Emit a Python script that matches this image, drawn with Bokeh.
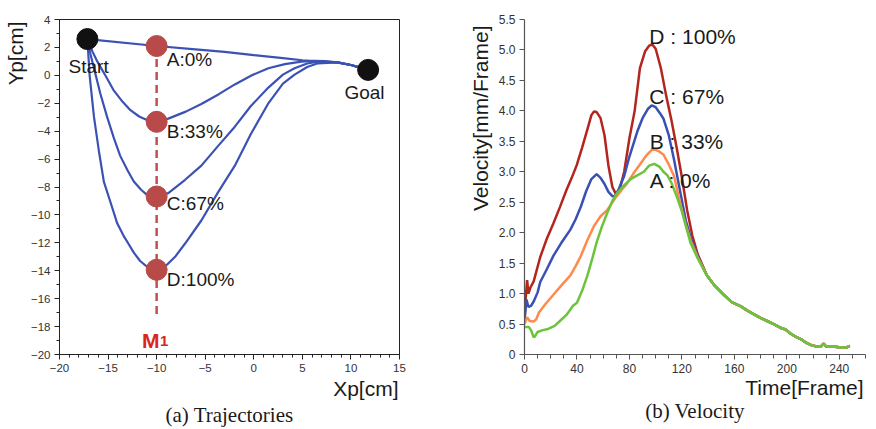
from bokeh.plotting import figure
from bokeh.layouts import row
from bokeh.models import Range1d, FixedTicker, Label, NumeralTickFormatter, Title
from bokeh.embed import file_html
from bokeh.resources import INLINE

# ---------------- (a) Trajectories data ----------------
start_pt = (-17.13, 2.6)
goal_pt = (11.77, 0.39)
via_x = [-10.0, -10.0, -10.0, -10.0]
via_y = [2.1, -3.33, -8.68, -13.93]
via_names = ["A:0%", "B:33%", "C:67%", "D:100%"]
via_label_y = [1.14, -4.0, -9.2, -14.6]

trajA_x = [-17.13, -10.0, -6.0, -3.0, 0.0, 3.0, 5.0, 6.6, 8.6, 10.0, 11.77]
trajA_y = [2.6, 2.1, 1.86, 1.68, 1.45, 1.23, 1.08, 1.0, 0.93, 0.74, 0.39]

trajB_x = [-17.13, -16.6, -16.1, -15.2, -14.4, -13.5, -12.7, -11.8, -11.0, -10.0,
           -8.8, -7.0, -5.4, -3.6, -1.95, -0.2, 1.5, 3.2, 4.9, 6.2, 7.3, 8.6, 10.0, 11.77]
trajB_y = [2.6, 1.7, 0.98, -0.1, -1.1, -1.9, -2.5, -2.95, -3.2, -3.33,
           -3.1, -2.6, -2.05, -1.35, -0.65, 0.0, 0.51, 0.8, 0.98, 1.03, 1.02, 0.93, 0.74, 0.39]

trajC_x = [-17.13, -16.8, -16.45, -15.8, -15.1, -14.4, -13.75, -13.0, -12.35, -11.6, -11.0, -10.0,
           -8.8, -7.1, -5.4, -3.6, -1.95, -0.3, 1.5, 3.0, 4.2, 5.5, 6.6, 8.6, 10.0, 11.77]
trajC_y = [2.6, 1.5, 0.51, -1.3, -2.98, -4.5, -5.77, -6.8, -7.6, -8.2, -8.56, -8.68,
           -8.44, -7.5, -6.47, -5.0, -3.68, -2.2, -0.88, 0.05, 0.51, 0.85, 0.98, 0.93, 0.74, 0.39]

trajD_x = [-17.13, -16.9, -16.45, -15.95, -15.43, -14.7, -14.06, -13.4, -12.87, -12.35, -11.7, -11.0, -10.0,
           -9.1, -8.1, -7.07, -5.4, -3.7, -1.95, -0.3, 1.46, 3.0, 4.2, 5.5, 6.6, 8.6, 10.0, 11.77]
trajD_y = [2.6, 0.0, -2.98, -5.4, -7.63, -9.2, -10.6, -11.5, -12.1, -12.7, -13.3, -13.7, -13.93,
           -13.68, -13.0, -12.05, -10.4, -8.4, -6.47, -4.2, -2.05, -0.6, 0.05, 0.6, 0.86, 0.93, 0.74, 0.39]

m1_line_y = [2.1, -17.3]

x_major = [-20, -15, -10, -5, 0, 5, 10, 15]
x_minor = list(range(-20, 16))
y_major = list(range(-20, 5, 2))
y_minor = list(range(-20, 5))

# ---------------- (b) Velocity data ----------------
tail_f = [145, 152, 158, 165, 170, 175, 180, 185, 190, 195, 199, 203, 207, 211, 215, 219,
          223, 226, 228, 230, 235, 240, 244, 246, 248]
tail_v = [1.13, 0.98, 0.86, 0.79, 0.72, 0.66, 0.60, 0.55, 0.50, 0.44, 0.41, 0.34, 0.29, 0.25, 0.19, 0.15,
          0.13, 0.13, 0.18, 0.13, 0.13, 0.12, 0.11, 0.12, 0.14]

velD_f = [0, 1, 2, 3, 4.5, 7, 12, 17, 22, 27, 32, 36, 40, 44, 48, 51, 53, 55, 58, 61, 64, 67, 70,
          73, 76, 80, 84, 88, 92, 95, 97.5, 100, 104, 108, 112, 116, 120, 124, 128, 132, 139]
velD_v = [0.6, 0.95, 1.22, 1.0, 1.1, 1.2, 1.6, 1.9, 2.15, 2.42, 2.7, 2.9, 3.12, 3.4, 3.7, 3.93, 3.99, 3.98,
          3.88, 3.6, 3.1, 2.75, 2.62, 2.75, 3.0, 3.55, 4.0, 4.7, 4.98, 5.07, 5.09, 5.02, 4.7, 4.25, 3.85,
          3.4, 2.91, 2.37, 1.95, 1.65, 1.3]

velC_f = [0, 1.5, 3, 5, 7, 10, 12, 17, 22, 28, 35, 39, 43, 47, 51, 55, 58, 61, 64, 67, 69, 72, 76,
          80, 86, 90, 94, 97, 100, 103, 106, 110, 114, 119, 123, 127, 132, 139]
velC_v = [0.55, 0.9, 0.78, 0.8, 0.87, 1.02, 1.19, 1.4, 1.62, 1.83, 2.05, 2.22, 2.43, 2.68, 2.88, 2.96,
          2.9, 2.8, 2.67, 2.6, 2.6, 2.72, 2.93, 3.25, 3.66, 3.88, 4.03, 4.09, 4.06, 3.97, 3.87, 3.6,
          3.2, 2.64, 2.2, 1.9, 1.62, 1.3]

velB_f = [0, 2, 4, 7, 9, 11, 16, 22, 28, 35, 39, 43, 48, 53, 58, 63, 69, 74, 78, 83, 88, 93, 97,
          100, 103, 106, 110, 114, 118, 122, 127, 132, 139]
velB_v = [0.5, 0.61, 0.55, 0.54, 0.58, 0.69, 0.83, 0.98, 1.13, 1.3, 1.45, 1.62, 1.88, 2.11, 2.27,
          2.37, 2.56, 2.7, 2.8, 2.97, 3.12, 3.27, 3.36, 3.36, 3.33, 3.28, 3.12, 2.93, 2.55, 2.2, 1.85,
          1.6, 1.3]

velA_f = [0, 3.3, 5, 7, 8, 10, 14, 18, 23, 27, 32, 37, 40, 44, 48, 52, 55, 59, 63, 67, 71, 76, 81,
          86, 91, 95, 99, 103, 106, 109, 112, 116, 120, 126.5, 132, 139]
velA_v = [0.45, 0.45, 0.4, 0.28, 0.3, 0.37, 0.4, 0.42, 0.47, 0.55, 0.65, 0.8, 0.85, 1.05, 1.3, 1.6,
          1.84, 2.1, 2.32, 2.52, 2.66, 2.78, 2.88, 2.94, 3.0, 3.1, 3.13, 3.08, 3.0, 2.94, 2.82, 2.6,
          2.35, 1.84, 1.58, 1.3]

vel_names = ["A : 0%", "B : 33%", "C : 67%", "D : 100%"]
vel_label_f = [95.5, 95.5, 95.2, 95.2]
vel_label_v = [2.86, 3.49, 4.24, 5.22]

f_major = [0, 40, 80, 120, 160, 200, 240]
f_minor = list(range(0, 261, 10))
v_major = [0, 0.5, 1.0, 1.5, 2.0, 2.5, 3.0, 3.5, 4.0, 4.5, 5.0, 5.5]

SANS = "Liberation Sans"
SERIF = "Liberation Serif"
INK = "#1a1a1a"


def add_title(p, text, side, align, offset, standoff, font=SANS, size="21px"):
    t = Title(text=text, align=align, offset=offset, standoff=standoff, text_font=font,
              text_font_size=size, text_font_style="normal", text_color=INK)
    p.add_layout(t, side)


# ---------------- left figure ----------------
p1 = figure(width=440, height=428, x_range=Range1d(-20, 15), y_range=Range1d(-20, 4),
            title=None, output_backend="svg", toolbar_location=None,
            min_border_left=57, min_border_right=41, min_border_top=10, min_border_bottom=74)
p1.grid.visible = False
p1.outline_line_color = "#222222"
p1.outline_line_width = 1
p1.xaxis.ticker = FixedTicker(ticks=x_major, minor_ticks=x_minor)
p1.yaxis.ticker = FixedTicker(ticks=y_major, minor_ticks=y_minor)
for ax in (p1.xaxis[0], p1.yaxis[0]):
    ax.axis_line_color = "#222222"
    ax.major_tick_line_color = "#222222"
    ax.minor_tick_line_color = "#222222"
    ax.major_tick_out = 5
    ax.major_tick_in = 0
    ax.minor_tick_out = 3
    ax.minor_tick_in = 0
    ax.major_label_text_font = SANS
    ax.major_label_text_font_size = "11.5px"
    ax.major_label_text_color = "#333333"
    ax.major_label_standoff = 4

blue = "#3b52b4"
for xs, ys in [(trajA_x, trajA_y), (trajB_x, trajB_y), (trajC_x, trajC_y), (trajD_x, trajD_y)]:
    p1.line(xs, ys, line_color=blue, line_width=2.2)

p1.line([via_x[0], via_x[0]], m1_line_y, line_color="#c0504d", line_width=2.5, line_dash="8 5")
p1.scatter(via_x, via_y, size=21, fill_color="#b94a4a", line_color="#b94a4a")
p1.scatter([start_pt[0], goal_pt[0]], [start_pt[1], goal_pt[1]], size=21,
           fill_color="#111111", line_color="#111111")

for nm, ly in zip(via_names, via_label_y):
    p1.add_layout(Label(x=-8.95, y=ly, text=nm, text_font=SANS, text_font_size="19px",
                        text_color=INK, text_baseline="middle", text_align="left"))
p1.add_layout(Label(x=-17.0, y=0.6, text="Start", text_font=SANS, text_font_size="19px",
                    text_color=INK, text_baseline="middle", text_align="center"))
p1.add_layout(Label(x=11.4, y=-1.2, text="Goal", text_font=SANS, text_font_size="19px",
                    text_color=INK, text_baseline="middle", text_align="center"))
p1.add_layout(Label(x=-9.7, y=-19.03, text="M", text_font=SANS, text_font_size="21px",
                    text_font_style="bold", text_color="#d9261c", text_baseline="alphabetic",
                    text_align="right"))
p1.add_layout(Label(x=-9.65, y=-19.03, text="1", text_font=SANS, text_font_size="15px",
                    text_font_style="bold", text_color="#d9261c", text_baseline="alphabetic",
                    text_align="left"))

add_title(p1, "Yp[cm]", "left", "right", 2, 2)
add_title(p1, "Xp[cm]", "below", "right", 1, 0)
add_title(p1, "(a) Trajectories", "below", "center", -8, 2, font=SERIF)

# ---------------- right figure ----------------
p2 = figure(width=434, height=428, x_range=Range1d(0, 260), y_range=Range1d(0, 5.5),
            title=None, output_backend="svg", toolbar_location=None,
            min_border_left=84, min_border_right=9, min_border_top=19, min_border_bottom=67)
p2.grid.visible = False
p2.outline_line_color = None
p2.xaxis.ticker = FixedTicker(ticks=f_major, minor_ticks=f_minor)
p2.yaxis.ticker = FixedTicker(ticks=v_major, minor_ticks=[])
p2.yaxis.formatter = NumeralTickFormatter(format="0.0")
p2.yaxis.major_label_overrides = {0: "0"}
for ax in (p2.xaxis[0], p2.yaxis[0]):
    ax.axis_line_color = "#555555"
    ax.axis_line_width = 1.2
    ax.major_tick_line_color = "#555555"
    ax.minor_tick_line_color = "#555555"
    ax.major_tick_out = 5
    ax.major_tick_in = 0
    ax.minor_tick_out = 4
    ax.minor_tick_in = 0
    ax.major_label_text_font = SANS
    ax.major_label_text_font_size = "12px"
    ax.major_label_text_color = "#333333"
    ax.major_label_standoff = 4

series = [
    (velD_f, velD_v, "#b3261e"),
    (velC_f, velC_v, "#3b50b5"),
    (velB_f, velB_v, "#ff8a4c"),
    (velA_f, velA_v, "#6cc43c"),
]
for fs, vs, col in series:
    p2.line(fs + tail_f, vs + tail_v, line_color=col, line_width=2.5)

for nm, lf, lv in zip(vel_names, vel_label_f, vel_label_v):
    p2.add_layout(Label(x=lf, y=lv, text=nm, text_font=SANS, text_font_size="21px",
                        text_color=INK, text_baseline="middle", text_align="left"))

add_title(p2, "Velocity[mm/Frame]", "left", "right", 6, 8)
add_title(p2, "Time[Frame]", "below", "right", 2, -3)
add_title(p2, "(b) Velocity", "below", "center", -3.5, -1, font=SERIF)

layout = row(p1, p2)
open("out.html", "w").write(file_html(layout, INLINE))
